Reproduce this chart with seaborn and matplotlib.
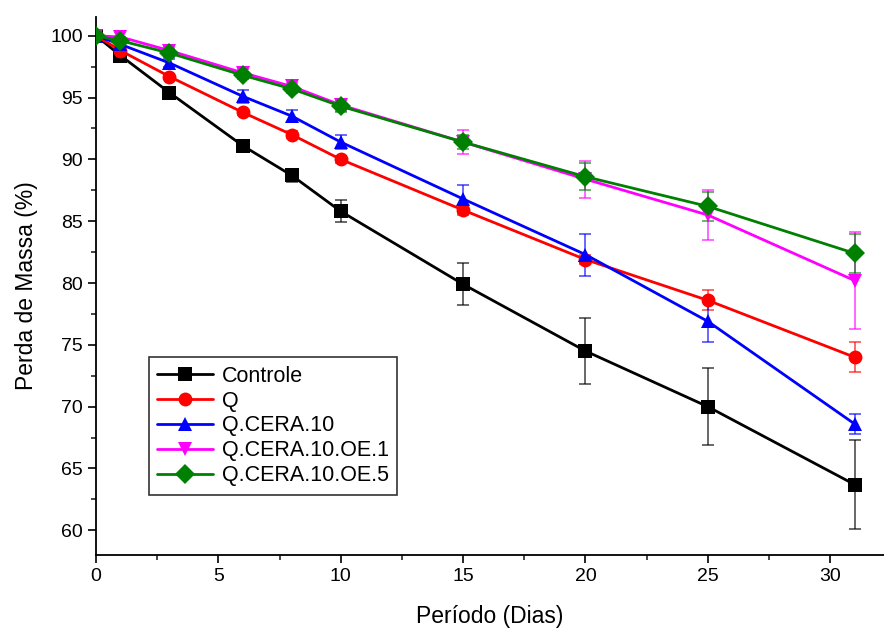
import numpy as np
import pandas as pd
import seaborn as sns
import matplotlib
matplotlib.use("Agg")
import matplotlib.pyplot as plt
from matplotlib.ticker import MultipleLocator

dias = [0, 1, 3, 6, 8, 10, 15, 20, 25, 31]
series_names = ["Controle", "Q", "Q.CERA.10", "Q.CERA.10.OE.1", "Q.CERA.10.OE.5"]
controle = [100, 98.4, 95.4, 91.1, 88.7, 85.8, 79.9, 74.5, 70.0, 63.7]
controle_err = [0, 0.2, 0.2, 0.3, 0.5, 0.9, 1.7, 2.7, 3.1, 3.6]
q = [100, 98.8, 96.7, 93.8, 92.0, 90.0, 85.9, 81.9, 78.6, 74.0]
q_err = [0, 0.2, 0.2, 0.2, 0.3, 0.3, 0.4, 0.4, 0.8, 1.2]
cera = [100, 99.3, 97.8, 95.1, 93.5, 91.4, 86.8, 82.3, 76.9, 68.6]
cera_err = [0, 0.3, 0.3, 0.5, 0.5, 0.6, 1.1, 1.7, 1.7, 0.8]
oe1 = [100, 99.9, 98.8, 97.0, 95.9, 94.4, 91.4, 88.4, 85.5, 80.2]
oe1_err = [0, 0.4, 0.3, 0.3, 0.3, 0.5, 1.0, 1.5, 2.0, 3.9]
oe5 = [100, 99.6, 98.6, 96.8, 95.7, 94.3, 91.4, 88.6, 86.2, 82.4]
oe5_err = [0, 0.3, 0.3, 0.3, 0.3, 0.5, 0.6, 1.1, 1.2, 1.6]

values = [controle, q, cera, oe1, oe5]
errors = [controle_err, q_err, cera_err, oe1_err, oe5_err]
colors = ["#000000", "#ff0000", "#0000ff", "#ff00ff", "#008000"]
markers = ["s", "o", "^", "v", "D"]

rows = []
for name, vals in zip(series_names, values):
    for d, v in zip(dias, vals):
        rows.append({"Dias": d, "Massa": v, "Serie": name})
df = pd.DataFrame(rows)

sns.set_theme(style="ticks")
plt.rcParams['font.family'] = ['Liberation Sans', 'DejaVu Sans']
plt.rcParams['text.color'] = 'black'
plt.rcParams['axes.labelcolor'] = 'black'

fig = plt.figure(figsize=(8.84, 6.32), dpi=100)
ax = fig.add_axes([0.1086, 0.1218, 0.8914, 0.851])

for name, vals, errs, c in zip(series_names, values, errors, colors):
    ax.errorbar(dias, vals, yerr=errs, fmt="none", ecolor=c, elinewidth=1.1,
                capsize=4.5, capthick=1.1, alpha=0.75, zorder=2)

sns.lineplot(data=df, x="Dias", y="Massa", hue="Serie", style="Serie",
             hue_order=series_names, style_order=series_names,
             palette=colors, markers=markers, dashes=False,
             linewidth=2, markersize=10, markeredgewidth=0, ax=ax, zorder=3)

ax.set_xlim(0, 32.2)
ax.set_ylim(58, 101.5)
ax.xaxis.set_major_locator(MultipleLocator(5))
ax.xaxis.set_minor_locator(MultipleLocator(2.5))
ax.yaxis.set_major_locator(MultipleLocator(5))
ax.yaxis.set_minor_locator(MultipleLocator(2.5))
ax.tick_params(which="major", direction="out", length=6, width=1.2, labelsize=14, colors="black")
ax.tick_params(which="minor", direction="out", length=3.5, width=1.2)
for s in ["top", "right"]:
    ax.spines[s].set_visible(False)
for s in ["left", "bottom"]:
    ax.spines[s].set_linewidth(1.3)
    ax.spines[s].set_color("black")

ax.set_xlabel("Período (Dias)", fontsize=16.5, labelpad=14)
ax.set_ylabel("Perda de Massa (%)", fontsize=16.5, labelpad=9)

leg = ax.legend(loc="lower left", bbox_to_anchor=(0.053, 0.092), fontsize=15.5,
                frameon=True, fancybox=False, edgecolor="black",
                borderpad=0.4, labelspacing=0.18, handlelength=2.6, handletextpad=0.4)
leg.get_frame().set_linewidth(1.2)

fig.savefig("out.png", dpi=100)
